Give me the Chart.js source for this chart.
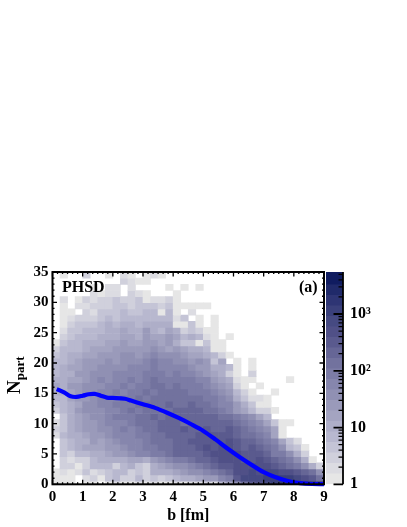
<!DOCTYPE html>
<html>
<head>
<meta charset="utf-8">
<style>
html,body{margin:0;padding:0;background:#fff;width:407px;height:527px;overflow:hidden}
canvas{position:absolute;top:0;display:block}
</style>
<script src="https://cdn.jsdelivr.net/npm/chart.js@4"></script>
</head>
<body>
<canvas id="main" width="407" height="527" style="left:0"></canvas>
<canvas id="bar" width="83" height="527" style="left:324px"></canvas>
<script>
// colour band of every cell: row index = Npart bin (0 at bottom), 0 = empty cell
const row00=[1,1,1,0,1,1,0,1,2,1,1,2,1,2,1,1,2,1,2,2,3,2,5,7,9,12,14,15,16,17,18,18,18,18,18,18];
const row01=[1,1,1,0,2,3,1,4,5,3,3,5,3,4,3,4,5,6,6,7,8,8,10,11,14,16,16,16,17,17,17,17,16,15,14,12];
const row02=[1,2,1,2,4,2,3,4,5,5,3,4,3,6,6,6,7,8,9,9,10,11,12,13,15,15,16,15,16,16,15,15,14,13,12,9];
const row03=[0,3,3,1,3,5,5,5,3,5,6,4,3,6,7,8,9,9,10,11,12,13,14,14,15,15,15,15,15,14,13,12,11,9,6,3];
const row04=[0,3,2,3,3,5,6,6,6,6,7,7,6,8,9,10,11,11,12,13,13,14,15,15,15,14,14,15,14,13,12,11,9,6,1,0];
const row05=[0,4,3,5,5,6,6,7,8,8,9,10,10,11,11,12,13,13,13,13,14,15,15,15,15,14,14,14,13,11,11,9,6,3,0,0];
const row06=[0,4,5,6,7,7,7,8,8,9,10,10,11,11,12,12,13,13,13,14,15,14,15,15,14,13,14,13,12,11,9,5,4,1,0,0];
const row07=[0,4,5,6,6,8,7,8,9,10,10,10,11,12,12,12,13,13,14,14,14,14,14,15,14,13,13,12,11,10,7,4,2,0,0,0];
const row08=[2,5,6,6,7,8,8,9,10,10,10,11,11,12,12,13,13,13,13,14,14,14,14,14,13,12,12,11,10,7,1,0,0,0,0,0];
const row09=[3,4,6,7,8,8,9,9,10,11,10,11,12,12,13,13,13,14,13,13,14,13,13,14,13,12,11,10,9,7,1,0,0,0,0,0];
const row10=[2,4,6,7,8,8,9,10,10,10,11,12,12,12,13,13,13,12,13,13,13,13,13,13,12,11,10,9,7,4,1,1,0,0,0,0];
const row11=[0,4,6,7,8,9,9,10,11,11,11,12,12,13,12,13,13,13,13,13,13,13,12,12,11,10,9,7,5,0,0,0,0,0,0,0];
const row12=[3,5,6,8,9,9,9,10,10,11,12,11,12,12,12,12,13,13,13,13,12,12,11,10,8,7,5,3,3,1,0,0,0,0,0,0];
const row13=[4,5,6,7,9,9,10,10,11,11,11,12,12,12,12,13,12,12,13,12,12,11,10,10,8,6,4,1,1,0,0,0,0,0,0,0];
const row14=[5,5,7,8,8,9,10,10,10,11,11,12,11,12,12,12,12,12,12,12,11,11,10,9,6,4,2,2,1,0,0,0,0,0,0,0];
const row15=[6,6,7,8,9,9,10,10,11,10,11,11,12,11,12,12,12,12,11,11,11,10,9,8,5,3,1,0,0,1,0,0,0,0,0,0];
const row16=[7,6,8,8,9,9,9,10,10,11,10,11,11,12,12,11,12,11,11,11,10,9,8,7,3,1,0,1,0,0,0,0,0,0,0,0];
const row17=[6,6,7,7,8,9,10,9,10,10,11,10,11,12,11,11,11,11,11,10,10,8,7,6,2,1,1,0,0,0,0,1,0,0,0,0];
const row18=[5,6,6,8,8,9,9,9,10,10,10,10,11,11,11,10,11,10,10,9,8,7,6,3,1,0,3,0,0,0,0,0,0,0,0,0];
const row19=[5,6,7,7,8,8,9,9,9,9,10,10,10,11,10,10,10,10,9,8,8,6,6,5,1,0,1,0,0,0,0,0,0,0,0,0];
const row20=[5,5,6,7,8,8,8,9,8,9,9,9,10,11,10,10,9,9,8,9,8,4,7,0,1,0,1,0,0,0,0,0,0,0,0,0];
const row21=[4,5,6,6,7,7,8,8,8,9,9,8,9,10,9,9,9,8,7,7,6,5,3,1,0,0,0,0,0,0,0,0,0,0,0,0];
const row22=[3,5,5,5,6,7,7,7,8,8,8,8,8,9,8,7,8,7,6,6,5,1,1,0,0,0,0,0,0,0,0,0,0,0,0,0];
const row23=[1,4,5,5,6,6,6,7,7,8,7,7,8,8,7,8,6,4,4,1,4,1,1,0,0,0,0,0,0,0,0,0,0,0,0,0];
const row24=[0,3,4,5,5,5,6,6,6,7,7,6,8,7,7,8,7,5,6,5,2,1,0,1,0,0,0,0,0,0,0,0,0,0,0,0];
const row25=[0,2,4,4,5,5,5,6,6,7,6,6,8,6,5,7,6,3,4,3,1,1,0,0,0,0,0,0,0,0,0,0,0,0,0,0];
const row26=[0,1,3,4,4,4,5,6,5,6,6,5,6,6,6,6,1,1,4,1,0,1,0,0,0,0,0,0,0,0,0,0,0,0,0,0];
const row27=[0,1,2,3,3,3,4,5,4,5,5,5,5,5,5,5,2,4,0,1,0,1,0,0,0,0,0,0,0,0,0,0,0,0,0,0];
const row28=[0,1,1,0,3,2,4,4,4,5,4,4,5,5,1,5,1,0,2,0,0,0,0,0,0,0,0,0,0,0,0,0,0,0,0,0];
const row29=[0,1,0,2,2,3,3,3,4,4,3,4,4,4,3,4,1,1,1,1,1,0,0,0,0,0,0,0,0,0,0,0,0,0,0,0];
const row30=[0,2,0,1,3,2,3,3,4,3,3,4,1,2,2,3,1,0,0,0,0,0,0,0,0,0,0,0,0,0,0,0,0,0,0,0];
const row31=[0,0,0,0,0,2,1,2,2,0,3,2,1,0,0,0,1,0,0,0,0,0,0,0,0,0,0,0,0,0,0,0,0,0,0,0];
const row32=[0,0,0,0,0,1,0,2,2,0,2,0,0,0,0,1,0,1,0,1,0,0,0,0,0,0,0,0,0,0,0,0,0,0,0,0];
const row33=[0,0,0,0,0,0,0,0,0,3,2,1,1,0,0,0,0,0,0,0,0,0,0,0,0,0,0,0,0,0,0,0,0,0,0,0];
const row34=[0,1,0,0,3,0,0,1,0,2,1,0,1,2,1,0,0,0,0,0,0,0,0,0,0,0,0,0,0,0,0,0,0,0,0,0];
const bandRows=[row00,row01,row02,row03,row04,row05,row06,row07,row08,row09,row10,row11,row12,row13,row14,row15,row16,row17,row18,row19,row20,row21,row22,row23,row24,row25,row26,row27,row28,row29,row30,row31,row32,row33,row34];

// mean Npart curve
const curveB=[0.14,0.4,0.6,0.8,1.0,1.2,1.4,1.6,1.8,2.0,2.4,2.6,3.0,3.4,3.8,4.2,4.6,5.0,5.4,5.8,6.2,6.6,7.0,7.4,7.8,8.2,8.6,9.0];
const curveN=[15.7,15.1,14.5,14.4,14.6,14.85,14.9,14.6,14.3,14.25,14.1,13.8,13.2,12.6,11.8,10.9,9.9,8.8,7.4,5.9,4.5,3.2,2.0,1.15,0.55,0.2,0.05,0.02];

// colour bar
const bandEdges=[1,1.53,2.34,3.58,5.48,8.4,12.9,19.7,30.2,46.2,70.8,108,166,254,389,596,912,1400,2140,3270,5500];
const bandColors=['#e6e6e6','#dcdce2','#d0d0dc','#c4c4d6','#b8b8cf','#aeaec8','#a4a4c1','#9a9aba','#9090b3','#8686ad','#7c7ca6','#72729e','#666696','#5a5a8e','#505087','#464a82','#3a407b','#2e3574','#202a6a','#101c60'];
const colorbarTicks=[1,10,100,1000];
const colorbarMinor=[2,3,4,5,6,7,8,9,20,30,40,50,60,70,80,90,200,300,400,500,600,700,800,900,2000,3000,4000,5000];
const colorbarLabels={1:'1',10:'10',100:'10²',1000:'10³'};

const xMin=0,xMax=9,yMin=0,yMax=35;
const binB=0.25, yLow=-0.5, binN=35.5/35;
const serif='"Liberation Serif","Times New Roman",serif';

const cells=[];
bandRows.forEach((r,k)=>r.forEach((band,c)=>{
  if(band>0)cells.push({x:(c+0.5)*binB,y:[yLow+k*binN,yLow+(k+1)*binN],band});
}));

const framePlugin={
  id:'frame',
  afterDatasetsDraw(chart){
    const {ctx,chartArea:a,scales:{x,y}}=chart;
    ctx.save();
    ctx.strokeStyle='#000';
    ctx.lineWidth=1.3;
    ctx.beginPath();
    for(let i=0;i<=54;i++){
      const px=x.getPixelForValue(i/6),len=i%6===0?4.5:2;
      ctx.moveTo(px,a.bottom);ctx.lineTo(px,a.bottom-len);
      ctx.moveTo(px,a.top);ctx.lineTo(px,a.top+len);
    }
    for(let i=0;i<=35;i++){
      const py=y.getPixelForValue(i),len=i%5===0?4.5:2;
      ctx.moveTo(a.left,py);ctx.lineTo(a.left+len,py);
      ctx.moveTo(a.right,py);ctx.lineTo(a.right-len,py);
    }
    ctx.stroke();
    ctx.lineWidth=2;
    ctx.strokeRect(a.left,a.top,a.right-a.left,a.bottom-a.top);
    ctx.fillStyle='#000';
    ctx.textBaseline='alphabetic';
    ctx.textAlign='left';
    ctx.font='bold 16px '+serif;
    ctx.fillText('PHSD',62,292);
    ctx.fillText('(a)',299,292);
    ctx.translate(20,394);
    ctx.rotate(-Math.PI/2);
    ctx.font='bold 19px '+serif;
    ctx.fillText('N',0,0);
    const w=ctx.measureText('N').width;
    ctx.font='bold 13px '+serif;
    ctx.fillText('part',w,3.5);
    ctx.restore();
  }
};

new Chart(document.getElementById('main'),{
  type:'bar',
  data:{datasets:[
    {type:'line',label:'mean',data:curveB.map((b,i)=>({x:b,y:curveN[i]})),borderColor:'#0000ff',borderWidth:4.2,pointRadius:0,tension:0.3,fill:false,order:0,clip:false},
    {type:'bar',label:'events',data:cells,backgroundColor:c=>bandColors[c.raw.band-1],barPercentage:1,categoryPercentage:1,borderWidth:0,order:1}
  ]},
  plugins:[framePlugin],
  options:{
    responsive:false,animation:false,
    layout:{padding:{left:0,top:272,right:83,bottom:0}},
    plugins:{legend:{display:false},tooltip:{enabled:false},title:{display:false}},
    scales:{
      x:{type:'linear',min:xMin,max:xMax,offset:false,
        grid:{display:false,drawTicks:false},border:{display:false},
        ticks:{stepSize:1,color:'#000',padding:4,maxRotation:0,font:{family:serif,weight:'bold',size:15}},
        title:{display:true,text:'b [fm]',color:'#000',padding:{top:4,bottom:2},font:{family:serif,weight:'bold',size:16}},
        afterFit(s){s.height=42.7;}},
      y:{type:'linear',min:yMin,max:yMax,
        grid:{display:false,drawTicks:false},border:{display:false},
        ticks:{stepSize:5,color:'#000',padding:4,font:{family:serif,weight:'bold',size:15}},
        afterFit(s){s.width=52.5;}}
    }
  }
});

const barFrame={
  id:'barFrame',
  afterDatasetsDraw(chart){
    const {ctx,chartArea:a,scales:{y}}=chart;
    ctx.save();
    ctx.strokeStyle='#000';
    ctx.lineWidth=1.3;
    ctx.beginPath();
    colorbarMinor.forEach(v=>{const p=y.getPixelForValue(v);ctx.moveTo(a.right,p);ctx.lineTo(a.right-4.5,p);});
    ctx.stroke();
    ctx.lineWidth=1.8;
    ctx.beginPath();
    colorbarTicks.forEach(v=>{const p=y.getPixelForValue(v);ctx.moveTo(a.right,p);ctx.lineTo(a.right-9.5,p);});
    ctx.moveTo(a.right,a.top);ctx.lineTo(a.right,a.bottom);
    ctx.stroke();
    ctx.restore();
  }
};

new Chart(document.getElementById('bar'),{
  type:'bar',
  data:{labels:[''],datasets:bandColors.map((col,i)=>({
    data:[[bandEdges[i],bandEdges[i+1]]],backgroundColor:col,borderWidth:0,barPercentage:1,categoryPercentage:1,grouped:false
  }))},
  plugins:[barFrame],
  options:{
    responsive:false,animation:false,
    layout:{padding:{left:2,top:272,right:0,bottom:42.7}},
    plugins:{legend:{display:false},tooltip:{enabled:false}},
    scales:{
      x:{display:false,type:'category'},
      y:{type:'logarithmic',position:'right',min:1,max:5500,
        grid:{display:false,drawTicks:false},border:{display:false},
        afterBuildTicks(s){s.ticks=colorbarTicks.map(v=>({value:v,major:true}));},
        ticks:{autoSkip:false,color:'#000',padding:7,align:'center',crossAlign:'near',
          font:{family:serif,weight:'bold',size:16},
          callback:v=>colorbarLabels[v]||''},
        afterFit(s){s.width=64;}}
    }
  }
});
</script>
</body>
</html>
